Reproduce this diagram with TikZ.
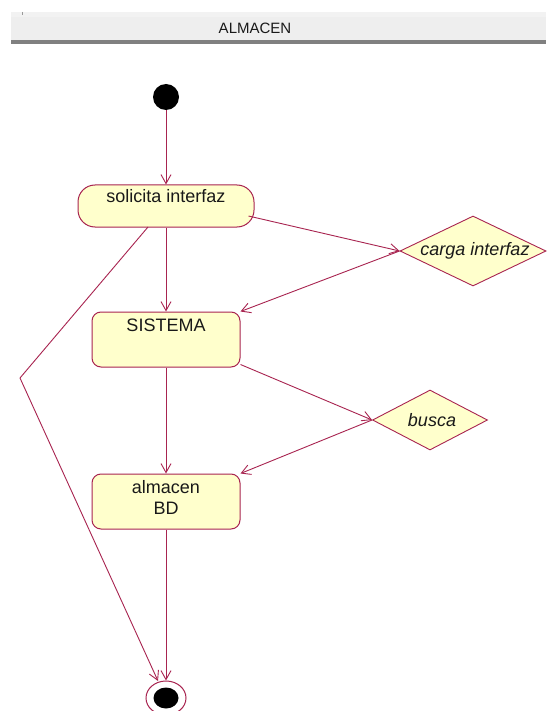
\documentclass[tikz,border=0pt]{standalone}
\usepackage{fontspec}
\setmainfont{Liberation Sans}
\usetikzlibrary{arrows.meta,shapes.geometric}
\definecolor{umlline}{RGB}{168,36,80}
\definecolor{umlfill}{RGB}{255,255,204}
\definecolor{barlight}{RGB}{238,238,238}
\definecolor{bardark}{RGB}{128,128,128}
\tikzset{
  flow/.style={draw=umlline, line width=0.9pt, -{Straight Barb[length=9pt,width=10pt,line width=0.9pt]}},
  plain/.style={draw=umlline, line width=0.9pt},
  actbox/.style={draw=umlline, line width=1pt, fill=umlfill, rounded corners=9pt, minimum width=148pt, minimum height=55pt, inner sep=0pt},
  actround/.style={draw=umlline, line width=1pt, fill=umlfill, rounded corners=17pt, minimum width=176pt, minimum height=42pt, inner sep=0pt},
  decision/.style={draw=umlline, line width=0.9pt, fill=umlfill, diamond, inner sep=0pt},
  lbl/.style={font=\fontsize{18}{21}\selectfont, text=black!90, align=center, inner sep=0pt},
  ilbl/.style={lbl, font=\fontsize{18}{21}\selectfont\itshape}
}
\begin{document}
\begin{tikzpicture}[x=1pt,y=-1pt]
\useasboundingbox (0,0) rectangle (546,711);
\fill[white] (0,0) rectangle (546,711);
% title bar
\fill[barlight] (11,12) rectangle (546,40);
\fill[black!5] (11,12) rectangle (546,17);
\fill[bardark] (11,40) rectangle (546,44);
\draw[black!40, line width=0.8pt] (22,12) -- (22,15);
\node[font=\fontsize{15}{18}\selectfont, text=black!90] (title) at (255,28) {ALMACEN};

% nodes
\fill[black] (166,97) circle (13);
\node[circle, minimum size=26pt, inner sep=0pt] (ini) at (166,97) {};

\node[actround] (sol) at (166,206) {};
\node[lbl] (solt) at (166,196) {solicita interfaz};

\node[actbox] (sis) at (166,339.5) {};
\node[lbl] (sist) at (166,325) {SISTEMA};

\node[actbox] (alm) at (166,501.5) {};
\node[lbl] (almt) at (166,497) {almacen\\BD};

\node[decision, minimum width=146pt, minimum height=70pt] (carga) at (473,251) {};
\node[ilbl] (cargat) at (475,251) {carga interfaz};

\node[decision, minimum width=115pt, minimum height=60pt] (busca) at (430,420) {};
\node[ilbl] (buscat) at (432,420) {busca};

\node[ellipse, draw=umlline, line width=1pt, fill=white, minimum width=40pt, minimum height=34pt, inner sep=0pt] (fin) at (166,698) {};
\fill[black] (166,698) ellipse (12.5 and 10.5);

% connectors
\draw[flow] (ini) -- (sol);
\draw[flow] (sol) -- (sis);
\draw[flow] (sol.east) ++(-6,10) coordinate (solr) -- (carga.west);
\draw[flow] (carga.west) -- (sis.north east);
\draw[flow] (sis.south east) ++(0,-3) coordinate (sisr) -- (busca.west);
\draw[flow] (busca.west) -- (alm.north east);
\draw[flow] (sis) -- (alm);
\draw[flow] (alm) -- (fin);
\coordinate (bend) at (20,378);
\draw[plain] (148,227) coordinate (solb) -- (bend);
\draw[flow] (bend) -- (158,681);
\end{tikzpicture}
\end{document}
